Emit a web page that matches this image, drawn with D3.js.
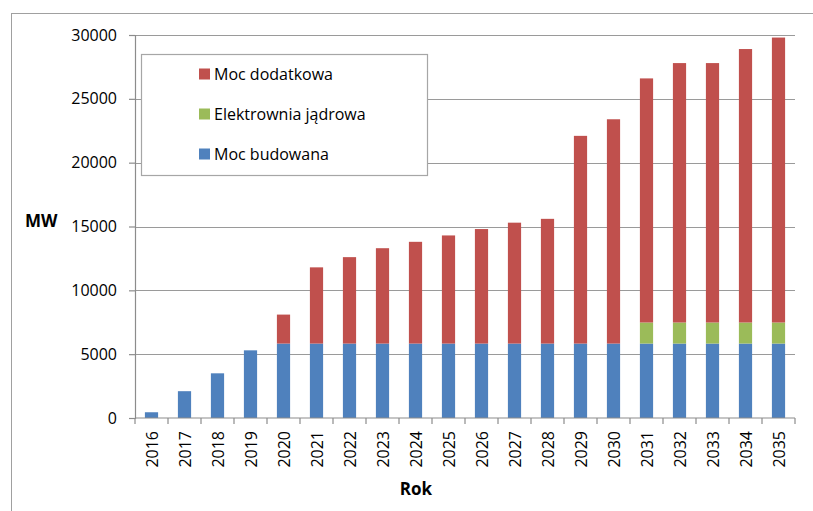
<!DOCTYPE html>
<html>
<head>
<meta charset="utf-8">
<script src="https://cdn.jsdelivr.net/npm/d3@7"></script>
<style>
  body { margin: 0; background: #fff; }
  text { font-family: "Open Sans", sans-serif; fill: #000; }
</style>
</head>
<body>
<div id="chart"></div>
<script>
"use strict"

// data
var years = ['2016', '2017', '2018', '2019', '2020', '2021', '2022', '2023', '2024', '2025',
             '2026', '2027', '2028', '2029', '2030', '2031', '2032', '2033', '2034', '2035'];
var mocBudowana = [450, 2100, 3500, 5300, 5830, 5830, 5830, 5830, 5830, 5830,
                   5830, 5830, 5830, 5830, 5830, 5830, 5830, 5830, 5830, 5830];
var elektrowniaJadrowa = [0, 0, 0, 0, 0, 0, 0, 0, 0, 0,
                          0, 0, 0, 0, 0, 1650, 1650, 1650, 1650, 1650];
var mocDodatkowa = [0, 0, 0, 0, 2270, 5970, 6770, 7470, 7970, 8470,
                    8970, 9470, 9770, 16270, 17570, 19120, 20320, 20320, 21420, 22320];
var yTicks = [0, 5000, 10000, 15000, 20000, 25000, 30000];

var seriesNames = ['Moc budowana', 'Elektrownia jądrowa', 'Moc dodatkowa'];
var seriesColors = ['#4F81BD', '#9BBB59', '#C0504D'];

// build a table for the stack
var table = years.map(function(yr, i) {
    return {year: yr, 'Moc budowana': mocBudowana[i], 'Elektrownia jądrowa': elektrowniaJadrowa[i], 'Moc dodatkowa': mocDodatkowa[i]};
});

var width = 813, height = 511;
var margin = {top: 35, right: 18, bottom: 93, left: 135};

var svg = d3.select("#chart")
    .append("svg")
    .attr("width", width)
    .attr("height", height);

// outer chart frame
svg.append("rect")
    .attr("x", 11.5).attr("y", 13.5)
    .attr("width", width + 10).attr("height", height + 10)
    .attr("fill", "none")
    .attr("stroke", "#A0A0A0")
    .attr("stroke-width", 1);

var x = d3.scaleBand()
    .domain(years)
    .range([margin.left, width - margin.right])
    .paddingInner(0.6)
    .paddingOuter(0.3);

var y = d3.scaleLinear()
    .domain([0, 30000])
    .range([height - margin.bottom, margin.top]);

// gridlines
svg.append("g")
    .selectAll("line")
    .data(yTicks.slice(1))
    .enter()
    .append("line")
    .attr("x1", margin.left)
    .attr("x2", width - margin.right)
    .attr("y1", function(d) { return Math.round(y(d)) + 0.5; })
    .attr("y2", function(d) { return Math.round(y(d)) + 0.5; })
    .attr("stroke", "#9A9A9A")
    .attr("stroke-width", 1.2);

// stacked bars
var stack = d3.stack().keys(seriesNames);
var layers = stack(table);

svg.append("g")
    .selectAll("g")
    .data(layers)
    .enter()
    .append("g")
    .attr("fill", function(d, i) { return seriesColors[i]; })
    .selectAll("rect")
    .data(function(d) { return d; })
    .enter()
    .append("rect")
    .attr("x", function(d) { return x(d.data.year); })
    .attr("y", function(d) { return y(d[1]); })
    .attr("width", x.bandwidth())
    .attr("height", function(d) { return y(d[0]) - y(d[1]); });

// y axis
var yAxis = svg.append("g")
    .attr("transform", "translate(" + margin.left + ",0)")
    .call(d3.axisLeft(y).tickValues(yTicks).tickSize(6).tickPadding(12).tickFormat(d3.format("d")));
yAxis.selectAll("text").style("font-size", "16px").style("font-family", "'Open Sans', sans-serif");
yAxis.selectAll("line, path").attr("stroke", "#8C8C8C").attr("stroke-width", 1.2);

// x axis with ticks at band edges
var xAxis = svg.append("g")
    .attr("transform", "translate(0," + (height - margin.bottom) + ")");
xAxis.append("line")
    .attr("x1", margin.left).attr("x2", width - margin.right)
    .attr("y1", 0).attr("y2", 0)
    .attr("stroke", "#8C8C8C").attr("stroke-width", 1.2);
var step = x.step();
xAxis.selectAll("line.tick")
    .data(d3.range(years.length + 1))
    .enter()
    .append("line")
    .attr("class", "tick")
    .attr("x1", function(i) { return margin.left + i * step; })
    .attr("x2", function(i) { return margin.left + i * step; })
    .attr("y1", 0).attr("y2", 6)
    .attr("stroke", "#8C8C8C").attr("stroke-width", 1.2);
xAxis.selectAll("text")
    .data(years)
    .enter()
    .append("text")
    .attr("transform", function(d) {
        return "translate(" + (x(d) + x.bandwidth() / 2 + 6) + ",13) rotate(-90)";
    })
    .attr("text-anchor", "end")
    .style("font-size", "16px")
    .text(function(d) { return d; });

// axis titles
svg.append("text")
    .attr("x", 25).attr("y", 227)
    .style("font-size", "17px").style("font-weight", "bold")
    .text("MW");
svg.append("text")
    .attr("x", 416).attr("y", 495)
    .attr("text-anchor", "middle")
    .style("font-size", "17px").style("font-weight", "bold")
    .text("Rok");

// legend
var legend = svg.append("g");
legend.append("rect")
    .attr("x", 141.5).attr("y", 54.5)
    .attr("width", 286).attr("height", 121)
    .attr("fill", "#fff")
    .attr("stroke", "#A6A6A6")
    .attr("stroke-width", 1.2);
var legendOrder = [2, 1, 0];
legendOrder.forEach(function(s, i) {
    var cy = 74 + i * 40;
    legend.append("rect")
        .attr("x", 199).attr("y", cy - 5.5)
        .attr("width", 11).attr("height", 11)
        .attr("fill", seriesColors[s]);
    legend.append("text")
        .attr("x", 214).attr("y", cy + 6)
        .style("font-size", "16px")
        .text(seriesNames[s]);
});
</script>
</body>
</html>
